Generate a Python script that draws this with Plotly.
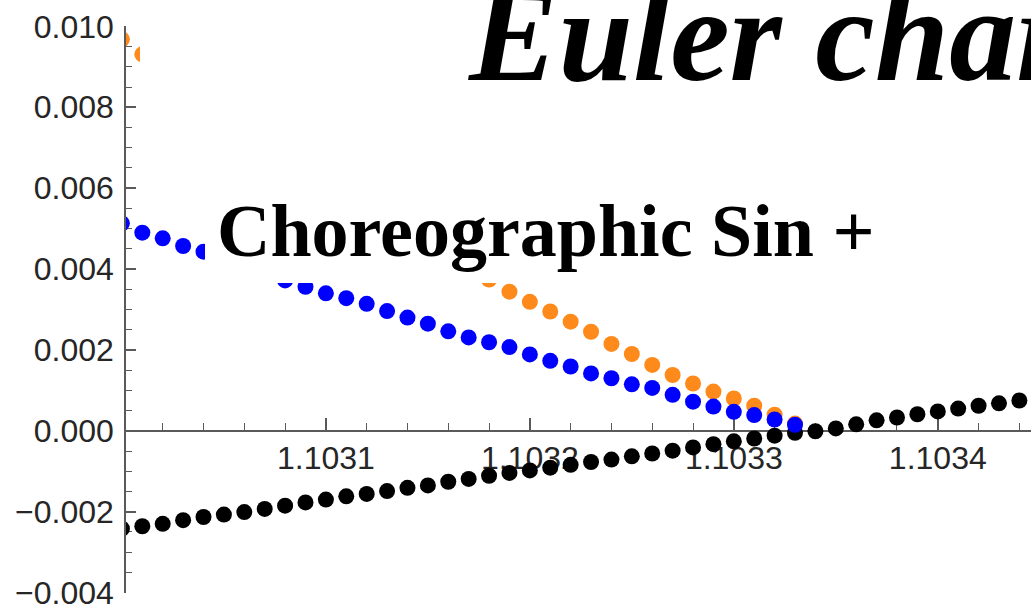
import plotly.graph_objects as go

# ---------------- data ----------------
x_vals = [1.10300, 1.10301, 1.10302, 1.10303, 1.10304, 1.10305, 1.10306, 1.10307,
          1.10308, 1.10309, 1.10310, 1.10311, 1.10312, 1.10313, 1.10314, 1.10315,
          1.10316, 1.10317, 1.10318, 1.10319, 1.10320, 1.10321, 1.10322, 1.10323,
          1.10324, 1.10325, 1.10326, 1.10327, 1.10328, 1.10329, 1.10330, 1.10331,
          1.10332, 1.10333, 1.10334, 1.10335, 1.10336, 1.10337, 1.10338, 1.10339,
          1.10340, 1.10341, 1.10342, 1.10343, 1.10344]

black_y = [-0.00242, -0.00236, -0.00230, -0.00221, -0.00213, -0.00207, -0.00201, -0.00193,
           -0.00185, -0.00177, -0.00170, -0.00162, -0.00156, -0.00149, -0.00141, -0.00135,
           -0.00126, -0.00119, -0.00111, -0.00104, -0.00098, -0.00091, -0.00084, -0.00077,
           -0.00071, -0.00063, -0.00056, -0.00049, -0.00041, -0.00033, -0.00026, -0.00019,
           -0.00012, -0.00005, -0.00001, 0.00006, 0.00016, 0.00026, 0.00033, 0.00041,
           0.00048, 0.00055, 0.00062, 0.00068, 0.00075]

orange_y = [0.00968, 0.00931, 0.00894, 0.00858, 0.00822, 0.00787, 0.00752, 0.00718,
            0.00684, 0.00651, 0.00618, 0.00586, 0.00555, 0.00524, 0.00494, 0.00464,
            0.00435, 0.00403, 0.00374, 0.00344, 0.00319, 0.00295, 0.00270, 0.00245,
            0.00215, 0.00190, 0.00163, 0.00138, 0.00117, 0.00097, 0.00080, 0.00062,
            0.00040, 0.00018]

blue_y = [0.00513, 0.00490, 0.00476, 0.00457, 0.00443, 0.00425, 0.00407, 0.00390,
          0.00372, 0.00356, 0.00340, 0.00328, 0.00314, 0.00296, 0.00280, 0.00265,
          0.00246, 0.00231, 0.00219, 0.00207, 0.00189, 0.00173, 0.00159, 0.00142,
          0.00130, 0.00115, 0.00106, 0.00089, 0.00072, 0.00060, 0.00047, 0.00039,
          0.00028, 0.00015]

x_tick_vals = [1.1031, 1.1032, 1.1033, 1.1034]
x_tick_text = ["1.1031", "1.1032", "1.1033", "1.1034"]
y_tick_vals = [-0.004, -0.002, 0.000, 0.002, 0.004, 0.006, 0.008, 0.010]
y_tick_text = ["\u22120.004", "\u22120.002", "0.000", "0.002", "0.004", "0.006", "0.008", "0.010"]

title_text = "Euler characteristic"
subtitle_text = "Choreographic Sin +"

x_range = [1.103002, 1.1034457]
y_range = [-0.00401, 0.01001]

# ---------------- figure ----------------
W, H = 1031, 608
ML, MR, MT, MB = 126, 0, 26, 15

def px_x(p):
    return (p - ML) / (W - ML - MR)

def px_y(p):
    return (H - MB - p) / (H - MT - MB)

fig = go.Figure()
mk = 16
fig.add_trace(go.Scatter(x=x_vals[:len(black_y)], y=black_y, mode="markers",
                         marker=dict(color="#000000", size=mk, line=dict(width=0)),
                         showlegend=False))
fig.add_trace(go.Scatter(x=x_vals[:len(orange_y)], y=orange_y, mode="markers",
                         marker=dict(color="#ff8a1c", size=mk, line=dict(width=0)),
                         showlegend=False))
fig.add_trace(go.Scatter(x=x_vals[:len(blue_y)], y=blue_y, mode="markers",
                         marker=dict(color="#0000ff", size=mk, line=dict(width=0)),
                         showlegend=False))

axis_color = "#5a5a5a"
label_font = dict(family="Liberation Sans, Arial, sans-serif", size=32, color="#262626")

fig.update_layout(
    width=W, height=H,
    margin=dict(l=ML, r=MR, t=MT, b=MB, pad=0),
    paper_bgcolor="white", plot_bgcolor="white",
    xaxis=dict(
        range=x_range, anchor="free",
        position=(0 - y_range[0]) / (y_range[1] - y_range[0]),
        showgrid=False, zeroline=False,
        showline=True, linecolor=axis_color, linewidth=1.6,
        tickmode="array", tickvals=x_tick_vals, ticktext=x_tick_text,
        ticks="inside", ticklen=12, tickwidth=1.6, tickcolor=axis_color,
        minor=dict(tickmode="linear", tick0=1.1031, dtick=0.00002,
                   ticks="inside", ticklen=7, tickwidth=1.4, tickcolor=axis_color),
        tickfont=label_font, ticklabelstandoff=-1, ticklabeloverflow="allow",
        layer="below traces", automargin=False,
    ),
    yaxis=dict(
        range=y_range,
        showgrid=False, zeroline=False,
        showline=True, linecolor=axis_color, linewidth=1.6,
        tickmode="array", tickvals=y_tick_vals, ticktext=y_tick_text,
        ticks="inside", ticklen=10, tickwidth=1.6, tickcolor=axis_color,
        minor=dict(tickmode="linear", tick0=0, dtick=0.0005,
                   ticks="inside", ticklen=6, tickwidth=1.4, tickcolor=axis_color),
        tickfont=label_font, ticklabelstandoff=4, ticklabeloverflow="allow",
        layer="below traces", automargin=False,
    ),
    shapes=[
        dict(type="rect", xref="paper", yref="paper", layer="above",
             x0=px_x(140), x1=px_x(1040), y0=px_y(200), y1=px_y(-10),
             fillcolor="white", line=dict(width=0)),
        dict(type="rect", xref="paper", yref="paper", layer="above",
             x0=px_x(205), x1=px_x(890), y0=px_y(283), y1=px_y(195),
             fillcolor="white", line=dict(width=0)),
    ],
    annotations=[
        dict(text="<b><i>" + title_text + "</i></b>", xref="paper", yref="paper",
             x=px_x(466), y=px_y(111), xanchor="left", yanchor="bottom",
             showarrow=False,
             font=dict(family="Liberation Serif, Times New Roman, serif", size=134, color="black")),
        dict(text="<b>" + subtitle_text + "</b>", xref="paper", yref="paper",
             x=px_x(215), y=px_y(274), xanchor="left", yanchor="bottom",
             showarrow=False,
             font=dict(family="Liberation Serif, Times New Roman, serif", size=74, color="black")),
    ],
)

fig.write_html("out.html")
